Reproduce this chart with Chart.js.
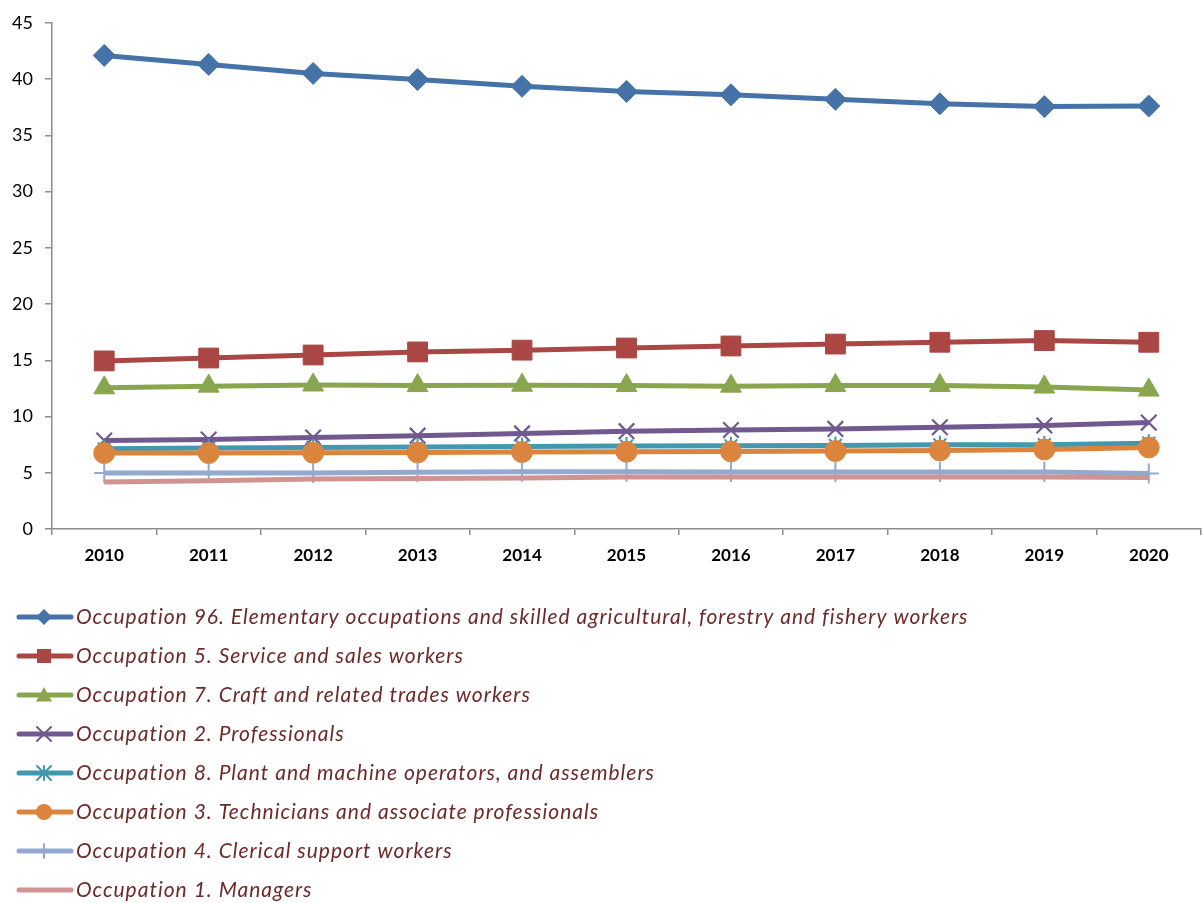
<!DOCTYPE html>
<html>
<head>
<meta charset="utf-8">
<script src="https://cdn.jsdelivr.net/npm/chart.js@4/dist/chart.umd.min.js"></script>
<style>
  html, body { margin: 0; padding: 0; background: #fff; }
  #wrap { width: 1202px; height: 903px; position: relative; }
</style>
</head>
<body>
<div id="wrap"><canvas id="c" width="1202" height="903"></canvas></div>
<script>
// Share of employment by occupation group, 2010–2020 (%)
const years = ['2010','2011','2012','2013','2014','2015','2016','2017','2018','2019','2020'];

const occ96 = [42.1, 41.3, 40.5, 39.95, 39.35, 38.9, 38.6, 38.2, 37.8, 37.55, 37.6];
const occ5  = [14.94, 15.2, 15.47, 15.74, 15.9, 16.09, 16.27, 16.44, 16.6, 16.75, 16.6];
const occ7  = [12.55, 12.7, 12.8, 12.75, 12.78, 12.75, 12.7, 12.75, 12.75, 12.62, 12.35];
const occ2  = [7.87, 7.96, 8.13, 8.3, 8.5, 8.7, 8.8, 8.9, 9.05, 9.2, 9.46];
const occ8  = [7.13, 7.19, 7.25, 7.28, 7.34, 7.37, 7.4, 7.43, 7.48, 7.5, 7.63];
const occ3  = [6.75, 6.75, 6.78, 6.8, 6.84, 6.87, 6.9, 6.93, 6.98, 7.07, 7.25];
const occ4  = [4.98, 4.98, 4.98, 5.04, 5.1, 5.08, 5.07, 5.07, 5.07, 5.07, 4.93];
const occ1  = [4.18, 4.3, 4.45, 4.5, 4.54, 4.63, 4.63, 4.63, 4.63, 4.63, 4.57];

const seriesNames = [
  'Occupation 96. Elementary occupations and skilled agricultural, forestry and fishery workers',
  'Occupation 5. Service and sales workers',
  'Occupation 7. Craft and related trades workers',
  'Occupation 2. Professionals',
  'Occupation 8. Plant and machine operators, and assemblers',
  'Occupation 3. Technicians and associate professionals',
  'Occupation 4. Clerical support workers',
  'Occupation 1. Managers'
];
const seriesValues = [occ96, occ5, occ7, occ2, occ8, occ3, occ4, occ1];
const yTicks = [0, 5, 10, 15, 20, 25, 30, 35, 40, 45];

const styles = [
  { color: '#4572A7', point: 'rectRot',  radius: 11,  pointBorder: 1 },
  { color: '#AA4643', point: 'rect',     radius: 14,  pointBorder: 1 },
  { color: '#89A54E', point: 'triangle', radius: 12,  pointBorder: 1 },
  { color: '#71588F', point: 'crossRot', radius: 11,  pointBorder: 2.2 },
  { color: '#4198AF', point: 'star',     radius: 9,   pointBorder: 2 },
  { color: '#DB843D', point: 'circle',   radius: 10.5,pointBorder: 1 },
  { color: '#93A9CF', point: 'cross',    radius: 10,  pointBorder: 2 },
  { color: '#D19392', point: false,      radius: 0,   pointBorder: 0 }
];

const n = seriesValues.length;
const datasets = seriesValues.map((vals, i) => ({
  label: seriesNames[i],
  data: vals,
  borderColor: styles[i].color,
  backgroundColor: styles[i].color,
  borderWidth: 5,
  pointStyle: styles[i].point,
  pointRadius: styles[i].radius,
  pointHoverRadius: styles[i].radius,
  pointBorderWidth: styles[i].pointBorder,
  pointBackgroundColor: styles[i].color,
  pointBorderColor: styles[i].color,
  tension: 0,
  clip: false,
  order: n - i
}));

// Draws a small marker for the legend swatch
function drawMarker(ctx, style, x, y, r, color) {
  ctx.save();
  ctx.fillStyle = color;
  ctx.strokeStyle = color;
  ctx.lineWidth = 2;
  ctx.beginPath();
  switch (style) {
    case 'rectRot':
      ctx.moveTo(x, y - r); ctx.lineTo(x + r, y); ctx.lineTo(x, y + r); ctx.lineTo(x - r, y); ctx.closePath(); ctx.fill(); break;
    case 'rect':
      ctx.rect(x - r, y - r, 2 * r, 2 * r); ctx.fill(); break;
    case 'triangle':
      ctx.moveTo(x, y - r); ctx.lineTo(x + r, y + r * 0.8); ctx.lineTo(x - r, y + r * 0.8); ctx.closePath(); ctx.fill(); break;
    case 'crossRot':
      ctx.moveTo(x - r, y - r); ctx.lineTo(x + r, y + r); ctx.moveTo(x + r, y - r); ctx.lineTo(x - r, y + r); ctx.stroke(); break;
    case 'star':
      ctx.moveTo(x - r, y - r); ctx.lineTo(x + r, y + r); ctx.moveTo(x + r, y - r); ctx.lineTo(x - r, y + r);
      ctx.moveTo(x, y - r); ctx.lineTo(x, y + r); ctx.stroke(); break;
    case 'circle':
      ctx.arc(x, y, r, 0, Math.PI * 2); ctx.fill(); break;
    case 'cross':
      ctx.moveTo(x, y - r); ctx.lineTo(x, y + r); ctx.stroke(); break;
  }
  ctx.restore();
}

const legendBlock = {
  id: 'legendBlock',
  afterDraw(chart) {
    const ctx = chart.ctx;
    ctx.save();
    ctx.font = 'italic 21px Lato';
    if ('letterSpacing' in ctx) ctx.letterSpacing = '1px';
    ctx.textBaseline = 'middle';
    ctx.textAlign = 'left';
    seriesNames.forEach((name, i) => {
      const y = 617 + i * 39;
      const st = styles[i];
      ctx.strokeStyle = st.color;
      ctx.lineWidth = 5;
      ctx.lineCap = 'round';
      ctx.beginPath();
      ctx.moveTo(19, y);
      ctx.lineTo(71, y);
      ctx.stroke();
      if (st.point) {
        const r = st.point === 'rect' ? 7 : (st.point === 'cross' || st.point === 'star' || st.point === 'crossRot') ? 7 : 8;
        drawMarker(ctx, st.point, 44, y, r, st.color);
      }
      ctx.fillStyle = '#6E2A2B';
      ctx.fillText(name, 76, y);
    });
    ctx.restore();
  }
};

new Chart(document.getElementById('c'), {
  type: 'line',
  data: { labels: years, datasets },
  options: {
    responsive: false,
    animation: false,
    events: [],
    layout: { autoPadding: false, padding: { top: 18, right: 1, left: 0, bottom: 0 } },
    plugins: { legend: { display: false }, tooltip: { enabled: false } },
    scales: {
      x: {
        offset: true,
        grid: { offset: true, drawOnChartArea: false, drawTicks: true, tickLength: 6, color: '#8C8C8C', lineWidth: 1.5 },
        border: { display: true, color: '#8C8C8C', width: 1.5 },
        ticks: { color: '#000', font: { family: 'Lato', size: 17, weight: 'bold' }, padding: 10, maxRotation: 0 },
        afterFit(scale) { scale.height = 374; scale.paddingLeft = 0; scale.paddingRight = 0; }
      },
      y: {
        min: 0, max: 45,
        afterBuildTicks(scale) { scale.ticks = yTicks.map(v => ({ value: v })); },
        grid: { drawOnChartArea: false, drawTicks: true, tickLength: 7, color: '#8C8C8C', lineWidth: 1.5 },
        border: { display: true, color: '#8C8C8C', width: 1.5 },
        ticks: { color: '#000', font: { family: 'Lato', size: 18 }, padding: 12 },
        afterFit(scale) { scale.width = 52; }
      }
    }
  },
  plugins: [legendBlock]
});
</script>
</body>
</html>
